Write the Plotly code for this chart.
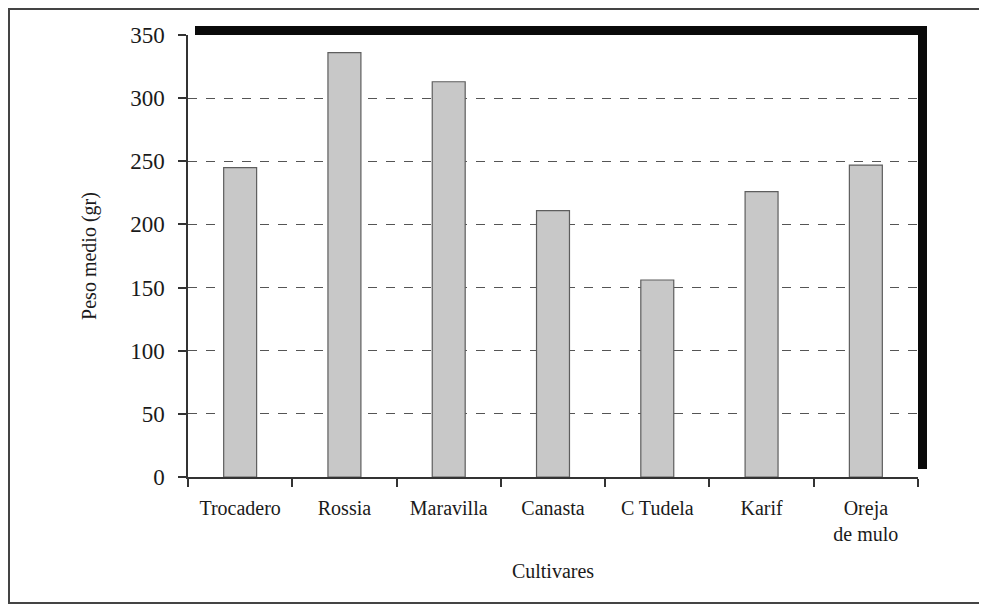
import plotly.graph_objects as go

cultivares = ["Trocadero", "Rossia", "Maravilla", "Canasta", "C Tudela", "Karif", "Oreja<br>de mulo"]
peso_medio = [245, 336, 313, 211, 156, 226, 247]
y_ticks = [0, 50, 100, 150, 200, 250, 300, 350]

OFF = 8  # page body margin
W, H = 987 - OFF, 606 - OFF
L, R, T, B = 188 - OFF, 918 - OFF, 35 - OFF, 477 - OFF  # plot area in figure pixels

def px(x):
    return (x - OFF - L) / (R - L)

def py(y):
    return (B - (y - OFF)) / (B - T)

fig = go.Figure()
fig.add_trace(go.Bar(
    x=cultivares, y=peso_medio,
    marker=dict(color="#c8c8c8", line=dict(color="#5e5e5e", width=1.2)),
    showlegend=False,
))

serif = "Liberation Serif, Times New Roman, serif"

fig.update_layout(
    width=W, height=H,
    margin=dict(l=L, r=W - R, t=T, b=H - B),
    paper_bgcolor="white", plot_bgcolor="white",
    bargap=0.684,
    font=dict(family=serif, color="#1a1a1a"),
    xaxis=dict(
        showline=True, linecolor="#333", linewidth=1.5,
        ticks="outside", ticklen=8, tickwidth=1.5, tickcolor="#333",
        tickson="boundaries", showgrid=False,
        tickfont=dict(size=20, family=serif, color="#1a1a1a"),
        ticklabelstandoff=12,
        title=dict(text="Cultivares", font=dict(size=20, family=serif), standoff=20),
        fixedrange=True,
    ),
    yaxis=dict(
        range=[0, 350], tickvals=y_ticks,
        showline=True, linecolor="#333", linewidth=1.5,
        ticks="outside", ticklen=8, tickwidth=1.5, tickcolor="#333",
        showgrid=True, gridcolor="#555", griddash="dash", gridwidth=1,
        zeroline=False,
        tickfont=dict(size=23, family=serif, color="#1a1a1a"),
        ticklabelstandoff=9,
        title=dict(text="Peso medio (gr)", font=dict(size=20, family=serif), standoff=28),
        fixedrange=True,
    ),
)

# shadow frame (top and right)
fig.add_shape(type="rect", xref="paper", yref="paper",
              x0=px(195), x1=px(927), y0=py(35), y1=py(26),
              fillcolor="#0a0a0a", line=dict(width=0))
fig.add_shape(type="rect", xref="paper", yref="paper",
              x0=px(918), x1=px(927), y0=py(469), y1=py(26),
              fillcolor="#0a0a0a", line=dict(width=0))
# outer border
fig.add_shape(type="rect", xref="paper", yref="paper",
              x0=px(9), x1=px(984), y0=py(603), y1=py(9),
              fillcolor="rgba(0,0,0,0)", line=dict(color="#444", width=2))

fig.write_html("out.html")
